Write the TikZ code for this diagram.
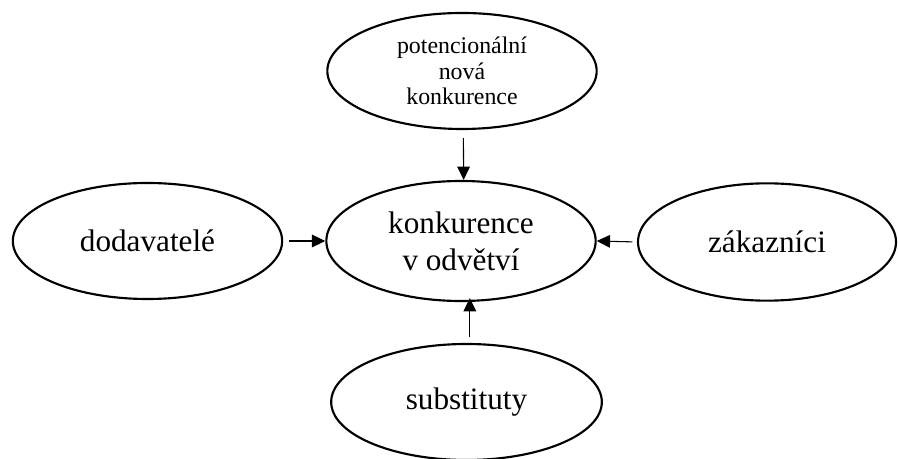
\documentclass[tikz,border=0pt]{standalone}
\usepackage{fontspec}
\setmainfont{Liberation Serif}
\usetikzlibrary{shapes.geometric,arrows.meta}

\begin{document}
\begin{tikzpicture}[x=0.75pt, y=0.75pt, arr/.style={line width=0.8pt, -{Triangle[length=10pt,width=9.5pt]}}]
\useasboundingbox (0,0) rectangle (898,459);
\tikzstyle{oval}=[ellipse, draw, line width=1.6pt, inner sep=0pt, align=center, minimum width=202pt, minimum height=87pt, font=\fontsize{23.4}{27.75}\selectfont]
\node[oval, font=\fontsize{17.9}{19.1}\selectfont] (pot) at (462,388) {potencionální\\nová\\konkurence};
\node[oval, minimum height=90pt] (odv) at (461,218) {konkurence\\v odvětví};
\node[oval] (dod) at (147.5,218) {dodavatelé};
\node[oval, minimum width=193.5pt, minimum height=88pt] (zak) at (767,217) {zákazníci};
\node[oval, minimum width=203pt] (sub) at (466.5,57) {substituty};
\draw[arr, shorten <=6pt] ([xshift=1]pot.south) -- ([xshift=2]odv.north);
\draw[arr, shorten <=4.5pt] (dod.east) -- (odv.west);
\draw[arr, shorten <=3.5pt] (zak.west) -- (odv.east);
\draw[arr, shorten <=4.5pt, shorten >=-3pt] ([xshift=2.5]sub.north) -- ([xshift=2.5]sub.north |- odv.south);
\end{tikzpicture}
\end{document}
